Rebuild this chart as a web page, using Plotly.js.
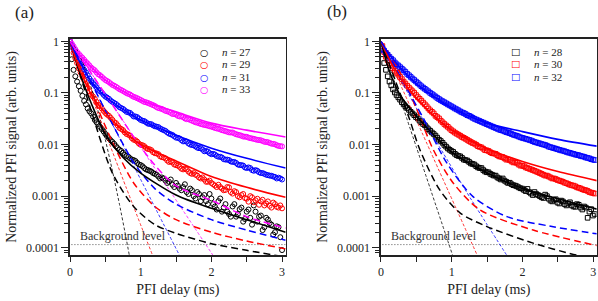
<!DOCTYPE html>
<html><head><meta charset="utf-8">
<script src="https://cdn.plot.ly/plotly-3.0.1.min.js"></script>
<style>html,body{margin:0;padding:0;background:#fff;}#plot{width:598px;height:301px;}</style>
</head><body><div id="plot"></div>
<script>
// ---------- data: panel (a) ----------
const tA = [0,0.05,0.1,0.15,0.2,0.25,0.3,0.35,0.4,0.45,0.5,0.55,0.6,0.65,0.7,0.75,0.8,0.85,0.9,0.95,1,1.05,1.1,1.15,1.2,1.25,1.3,1.35,1.4,1.45,1.5,1.55,1.6,1.65,1.7,1.75,1.8,1.85,1.9,1.95,2,2.05,2.1,2.15,2.2,2.25,2.3,2.35,2.4,2.45,2.5,2.55,2.6,2.65,2.7,2.75,2.8,2.85,2.9,2.95,3];
const tA2 = [0.025,0.075,0.125,0.175,0.225,0.275,0.325,0.375,0.425,0.475,0.525,0.575,0.625,0.675,0.725,0.775,0.825,0.875,0.925,0.975,1.025,1.075,1.125,1.175,1.225,1.275,1.325,1.375,1.425,1.475,1.525,1.575,1.625,1.675,1.725,1.775,1.825,1.875,1.925,1.975,2.025,2.075,2.125,2.175,2.225,2.275,2.325,2.375,2.425,2.475,2.525,2.575,2.625,2.675,2.725,2.775,2.825,2.875,2.925,2.975];
const a27 = [1.0,0.28,0.166,0.11,0.07,0.05,0.04,0.03,0.025,0.02,0.016,0.0132,0.0112,0.0093,0.0079,0.0069,0.006,0.0054,0.005,0.0044,0.004,0.0035,0.0032,0.003,0.0027,0.0024,0.0023,0.002,0.0019,0.00166,0.0018,0.0014,0.0015,0.0012,0.0014,0.001,0.0012,0.0008,0.00105,0.0007,0.0009,0.00063,0.0008,0.0005,0.0007,0.00045,0.00063,0.0004,0.00056,0.00032,0.0005,0.00038,0.00066,0.00032,0.00042,0.00025,0.00035,0.00028,0.0002,0.00025,0.00009];
const a27b = [0.45,0.21,0.135,0.088,0.06,0.044,0.035,0.027,0.022,0.018,0.0145,0.0121,0.0103,0.0085,0.0075,0.0063,0.0058,0.0051,0.0048,0.0041,0.0038,0.0033,0.0031,0.0028,0.0026,0.0022,0.0022,0.0018,0.0021,0.0015,0.0016,0.0013,0.0017,0.0011,0.0013,0.0009,0.0011,0.00095,0.0008,0.0011,0.0007,0.00055,0.0009,0.0006,0.0005,0.0004,0.0007,0.00045,0.0006,0.00036,0.00055,0.00028,0.0005,0.0004,0.00022,0.00038,0.0003,0.00018,0.00026,0.00016];
const a29 = [1.0,0.6,0.38,0.25,0.178,0.126,0.093,0.077,0.059,0.05,0.041,0.036,0.030,0.026,0.021,0.019,0.016,0.0148,0.0124,0.0114,0.0099,0.0093,0.0082,0.0078,0.0068,0.0065,0.0057,0.0054,0.0046,0.0045,0.0040,0.0037,0.0033,0.0033,0.0028,0.0028,0.0025,0.0022,0.0021,0.0019,0.0018,0.0016,0.00166,0.0014,0.00132,0.00148,0.00112,0.0012,0.00095,0.0011,0.00089,0.001,0.00076,0.00089,0.00079,0.00066,0.00079,0.0006,0.0007,0.0006,0.00058];
const a29b = [0.78,0.47,0.3,0.21,0.15,0.108,0.085,0.067,0.055,0.045,0.038,0.033,0.027,0.0235,0.02,0.0172,0.0155,0.0133,0.0121,0.0104,0.0097,0.0086,0.0081,0.0071,0.0067,0.0059,0.0056,0.0049,0.0047,0.0041,0.0039,0.0034,0.0034,0.003,0.0027,0.0026,0.0023,0.0023,0.0019,0.002,0.0017,0.0015,0.0015,0.0013,0.0015,0.0012,0.00125,0.001,0.00105,0.00092,0.00078,0.00095,0.00083,0.00068,0.00085,0.00072,0.00065,0.00075,0.00062,0.00066];
const a31 = [1.0,0.72,0.5,0.37,0.28,0.22,0.17,0.142,0.116,0.101,0.085,0.077,0.067,0.061,0.053,0.049,0.043,0.041,0.035,0.034,0.030,0.0285,0.0255,0.0248,0.0226,0.0218,0.0197,0.0184,0.0163,0.0153,0.0136,0.0131,0.0115,0.0114,0.0100,0.0097,0.0087,0.0085,0.0074,0.0073,0.0065,0.0064,0.0058,0.0056,0.0051,0.0050,0.0046,0.0044,0.0040,0.0039,0.0035,0.0035,0.0031,0.0031,0.0028,0.0027,0.00255,0.00248,0.00235,0.00228,0.0021];
const a31b = [0.85,0.6,0.43,0.32,0.25,0.19,0.155,0.128,0.108,0.092,0.081,0.071,0.064,0.057,0.051,0.046,0.042,0.038,0.035,0.032,0.029,0.027,0.025,0.0235,0.0222,0.0205,0.019,0.0172,0.0158,0.0144,0.0135,0.0122,0.0116,0.0105,0.0098,0.0092,0.0085,0.008,0.0075,0.0068,0.0066,0.006,0.0058,0.0052,0.0051,0.0047,0.0046,0.0041,0.004,0.0036,0.0036,0.0032,0.0032,0.0029,0.0028,0.0026,0.0025,0.0024,0.0022,0.0022];
const a33 = [1.0,0.8,0.62,0.52,0.44,0.37,0.31,0.275,0.23,0.205,0.178,0.162,0.143,0.132,0.118,0.109,0.099,0.093,0.084,0.079,0.073,0.067,0.064,0.06,0.056,0.051,0.049,0.045,0.043,0.039,0.038,0.035,0.034,0.031,0.030,0.028,0.0265,0.025,0.024,0.0232,0.0222,0.021,0.0202,0.019,0.0182,0.0172,0.0171,0.0158,0.0152,0.0143,0.0141,0.0133,0.0129,0.0123,0.0121,0.0113,0.0111,0.0104,0.0101,0.0094,0.0092];
const a33b = [0.9,0.7,0.57,0.48,0.4,0.34,0.29,0.25,0.22,0.19,0.17,0.152,0.138,0.125,0.114,0.104,0.096,0.088,0.082,0.076,0.07,0.066,0.062,0.058,0.053,0.05,0.047,0.044,0.041,0.039,0.036,0.035,0.032,0.031,0.029,0.027,0.0258,0.0245,0.0236,0.0226,0.0216,0.0205,0.0196,0.0186,0.0177,0.0171,0.0164,0.0155,0.0148,0.0142,0.0136,0.0131,0.0126,0.0122,0.0117,0.0112,0.0107,0.0103,0.0097,0.0093];

// fits (a): solid
const tFit = [0,0.1,0.2,0.3,0.5,0.75,1.0,1.5,2.0,2.5,3.05];
const a27Fit = [1,0.355,0.141,0.063,0.0158,0.0056,0.0028,0.00105,0.00058,0.00035,0.0002];
const a29Fit = [1,0.38,0.178,0.093,0.041,0.0186,0.01,0.0048,0.0024,0.00148,0.00095];
const a31Fit = [1,0.5,0.28,0.166,0.085,0.048,0.03,0.0151,0.0085,0.0054,0.0035];
const a33Fit = [1,0.63,0.44,0.316,0.178,0.107,0.072,0.043,0.026,0.019,0.014];
// long dashed (a)
const tDashA = [0,0.3,0.6,0.9,1.2,1.5,2.0,2.5,3.05];
const a27Dash = [1,0.045,0.0028,0.00063,0.00028,0.00019,0.00012,0.000089,0.000066];
const a29Dash = [1,0.1,0.0112,0.0018,0.00063,0.00035,0.0002,0.000135,0.000095];
const a31Dash = [1,0.158,0.025,0.0045,0.0014,0.0007,0.00035,0.00022,0.00014];
const a33Dash = [1,0.24,0.059,0.0141,0.004,0.00158,0.00083,0.0004,0.00024];
// thin short dashed (a)
const a27ThinT = [0,0.1,0.2,0.3,0.4,0.5,0.6,0.7,0.8,0.9];
const a27Thin = [1,0.68,0.33,0.129,0.043,0.0123,0.0031,0.00069,0.000138,0.000025];
const a29ThinT = [0,0.4,0.8,1.2];
const a29Thin = [1,0.038,0.0014,0.000055];
const a31ThinT = [0,0.8,1.6];
const a31Thin = [1,0.0072,0.000052];
const a33ThinT = [0,1.0,2.1];
const a33Thin = [1,0.0089,0.0000495];

// ---------- data: panel (b) ----------
const tB = [0.02,0.07,0.12,0.17,0.22,0.27,0.32,0.37,0.42,0.47,0.52,0.57,0.62,0.67,0.72,0.77,0.82,0.87,0.92,0.97,1.02,1.07,1.12,1.17,1.22,1.27,1.32,1.37,1.42,1.47,1.52,1.57,1.62,1.67,1.72,1.77,1.82,1.87,1.92,1.97,2.02,2.07,2.12,2.17,2.22,2.27,2.32,2.37,2.42,2.47,2.52,2.57,2.62,2.67,2.72,2.77,2.82,2.87,2.92,2.97,3.02];
const tB2 = [0.045,0.095,0.145,0.195,0.245,0.295,0.345,0.395,0.445,0.495,0.545,0.595,0.645,0.695,0.745,0.795,0.845,0.895,0.945,0.995,1.045,1.095,1.145,1.195,1.245,1.295,1.345,1.395,1.445,1.495,1.545,1.595,1.645,1.695,1.745,1.795,1.845,1.895,1.945,1.995,2.045,2.095,2.145,2.195,2.245,2.295,2.345,2.395,2.445,2.495,2.545,2.595,2.645,2.695,2.745,2.795,2.845,2.895,2.945,2.995];
const b28 = [0.56,0.28,0.166,0.117,0.091,0.074,0.06,0.051,0.043,0.037,0.032,0.027,0.0236,0.0198,0.0171,0.0149,0.0124,0.0108,0.0091,0.0079,0.0072,0.0062,0.0059,0.0051,0.0049,0.0043,0.0041,0.0036,0.0035,0.003,0.0029,0.0026,0.0025,0.0022,0.0022,0.0019,0.00182,0.00163,0.00155,0.00142,0.00132,0.00138,0.00112,0.0012,0.00105,0.00095,0.00107,0.00089,0.00079,0.00087,0.00072,0.00079,0.00066,0.00076,0.00063,0.0007,0.0006,0.00063,0.00038,0.00056,0.00045];
const b28b = [0.38,0.21,0.14,0.102,0.082,0.066,0.055,0.047,0.04,0.034,0.029,0.025,0.0215,0.0185,0.016,0.0136,0.0117,0.0098,0.0084,0.0075,0.0066,0.006,0.0055,0.005,0.0046,0.0042,0.0038,0.0035,0.0032,0.0029,0.0027,0.0025,0.0023,0.0021,0.002,0.0018,0.0017,0.0016,0.00148,0.0014,0.00125,0.0012,0.00105,0.0011,0.001,0.00092,0.001,0.00082,0.00085,0.00075,0.00082,0.0007,0.00072,0.00066,0.00062,0.00068,0.00055,0.0006,0.0005,0.00042];
const b30 = [0.81,0.5,0.38,0.3,0.245,0.204,0.166,0.138,0.117,0.1,0.083,0.071,0.06,0.05,0.043,0.036,0.032,0.027,0.0234,0.0204,0.018,0.0162,0.0148,0.0135,0.0123,0.0112,0.0104,0.0093,0.0088,0.0078,0.0075,0.0068,0.0066,0.0059,0.0057,0.0051,0.005,0.0045,0.0044,0.0039,0.0038,0.0035,0.0033,0.0031,0.0029,0.0027,0.0025,0.0024,0.0022,0.00214,0.002,0.0019,0.00178,0.00166,0.0016,0.00148,0.00141,0.00132,0.00126,0.00117,0.00112];
const b30b = [0.62,0.43,0.34,0.27,0.225,0.185,0.152,0.127,0.108,0.091,0.077,0.065,0.055,0.046,0.04,0.034,0.029,0.025,0.022,0.019,0.017,0.0155,0.014,0.0129,0.0117,0.0107,0.0099,0.009,0.0083,0.0077,0.0071,0.0067,0.0062,0.0058,0.0054,0.0051,0.0047,0.0045,0.0041,0.0039,0.0036,0.0034,0.0032,0.003,0.0028,0.0026,0.0025,0.0023,0.0022,0.00205,0.00195,0.00182,0.00172,0.00162,0.00155,0.00145,0.00136,0.0013,0.0012,0.00115];
const b32 = [0.71,0.6,0.5,0.43,0.36,0.316,0.275,0.234,0.204,0.178,0.155,0.135,0.12,0.107,0.095,0.085,0.076,0.069,0.063,0.0575,0.0525,0.048,0.0437,0.0407,0.037,0.0347,0.0316,0.0295,0.0275,0.0257,0.024,0.0224,0.0209,0.0195,0.0186,0.0174,0.0166,0.0155,0.0148,0.0138,0.0132,0.0126,0.012,0.0112,0.0107,0.0102,0.0098,0.0091,0.0087,0.0083,0.0079,0.0076,0.0072,0.0069,0.0066,0.0063,0.006,0.0058,0.0055,0.0052,0.005];
const b32b = [0.66,0.55,0.46,0.39,0.34,0.295,0.255,0.22,0.19,0.166,0.145,0.127,0.113,0.1,0.09,0.08,0.072,0.066,0.06,0.055,0.05,0.046,0.042,0.039,0.036,0.033,0.0305,0.0285,0.0266,0.0248,0.0232,0.0216,0.0202,0.019,0.018,0.017,0.016,0.0151,0.0143,0.0135,0.0129,0.0123,0.0116,0.011,0.0105,0.01,0.0095,0.0089,0.0085,0.0081,0.0077,0.0074,0.007,0.0067,0.0064,0.0062,0.0059,0.0056,0.0054,0.0051];
const b28Fit = [1,0.316,0.141,0.079,0.0355,0.0151,0.0071,0.0028,0.00141,0.00089,0.00056];
const b30Fit = [1,0.5,0.28,0.174,0.079,0.0355,0.019,0.0083,0.0047,0.003,0.002];
const b32Fit = [1,0.6,0.4,0.28,0.15,0.085,0.052,0.026,0.0178,0.0126,0.0093];
const b28DashT = [0,0.2,0.4,0.55,0.83,1.12,1.49,2.15,2.76,3.05];
const b28Dash = [1,0.178,0.032,0.0079,0.00132,0.00047,0.00026,0.000123,0.000072,0.00006];
const b30DashT = [0,0.27,0.5,0.74,1.02,1.4,2.15,3.05];
const b30Dash = [1,0.25,0.05,0.0079,0.0018,0.00054,0.00022,0.00011];
const b32DashT = [0,0.3,0.6,0.93,1.3,1.78,2.4,3.05];
const b32Dash = [1,0.178,0.032,0.0044,0.00098,0.0004,0.00026,0.000186];
const b28ThinT = [0,0.5,1.05];
const b28Thin = [1,0.0089,0.00005];
const b30ThinT = [0,0.7,1.4];
const b30Thin = [1,0.0073,0.000054];
const b32ThinT = [0,0.3,0.6,0.88,1.2,1.5,1.85];
const b32Thin = [1,0.158,0.0295,0.0068,0.00126,0.00028,0.00005];

const backgroundLevel = 0.000115;
const bgX = [0.02, 3.05];

const labelsA = ['<i>n</i> = 27','<i>n</i> = 29','<i>n</i> = 31','<i>n</i> = 33'];
const labelsB = ['<i>n</i> = 28','<i>n</i> = 30','<i>n</i> = 32'];
const yTickVals = [1,0.1,0.01,0.001,0.0001];
const yTickText = ['1','0.1','0.01','0.001','0.0001'];
const xTickVals = [0,0.5,1,1.5,2,2.5,3];
const xTickText = ['0','','1','','2','','3'];

// ---------- styling ----------
const BLACK='#000000', RED='#ff0000', BLUE='#0000ff', MAG='#ff00ff';
const FONT='Liberation Serif';
const colorsA=[BLACK,RED,BLUE,MAG], colorsB=[BLACK,RED,BLUE];

function pts(x,y,color,sym,name,xa,ya){
  return {x:x,y:y,type:'scatter',mode:'markers',name:name,xaxis:xa,yaxis:ya,showlegend:false,
    marker:{symbol:sym,size:sym==='circle-open'?5:4.6,color:color,line:{width:1,color:color}},cliponaxis:true,hoverinfo:'skip'};
}
function line(x,y,color,kind,xa,ya){
  let l;
  if(kind==='solid') l={color:color,width:1.6,shape:'spline',smoothing:0.8};
  else if(kind==='dash') l={color:color,width:1.5,dash:'7px,4px',shape:'spline',smoothing:0.8};
  else l={color:color,width:0.8,dash:'3px,2px',shape:'spline',smoothing:0.6};
  return {x:x,y:y,type:'scatter',mode:'lines',line:l,showlegend:false,xaxis:xa,yaxis:ya,hoverinfo:'skip'};
}

const traces = [
  pts(tA.concat(tA2),a27.concat(a27b),BLACK,'circle-open',labelsA[0],'x','y'),
  pts(tA.concat(tA2),a29.concat(a29b),RED,'circle-open',labelsA[1],'x','y'),
  pts(tA.concat(tA2),a31.concat(a31b),BLUE,'circle-open',labelsA[2],'x','y'),
  pts(tA.concat(tA2),a33.concat(a33b),MAG,'circle-open',labelsA[3],'x','y'),
  pts(tB.concat(tB2),b28.concat(b28b),BLACK,'square-open',labelsB[0],'x2','y2'),
  pts(tB.concat(tB2),b30.concat(b30b),RED,'square-open',labelsB[1],'x2','y2'),
  pts(tB.concat(tB2),b32.concat(b32b),BLUE,'square-open',labelsB[2],'x2','y2'),
  {x:bgX,y:[backgroundLevel,backgroundLevel],type:'scatter',mode:'lines',showlegend:false,xaxis:'x',yaxis:'y',line:{color:'#555',width:1,dash:'1px,2px'}},
  {x:bgX,y:[backgroundLevel,backgroundLevel],type:'scatter',mode:'lines',showlegend:false,xaxis:'x2',yaxis:'y2',line:{color:'#555',width:1,dash:'1px,2px'}},
  line(a27ThinT,a27Thin,BLACK,'thin','x','y'),
  line(a29ThinT,a29Thin,RED,'thin','x','y'),
  line(a31ThinT,a31Thin,BLUE,'thin','x','y'),
  line(a33ThinT,a33Thin,MAG,'thin','x','y'),
  line(tDashA,a27Dash,BLACK,'dash','x','y'),
  line(tDashA,a29Dash,RED,'dash','x','y'),
  line(tDashA,a31Dash,BLUE,'dash','x','y'),
  line(tDashA,a33Dash,MAG,'dash','x','y'),
  line(tFit,a27Fit,BLACK,'solid','x','y'),
  line(tFit,a29Fit,RED,'solid','x','y'),
  line(tFit,a31Fit,BLUE,'solid','x','y'),
  line(tFit,a33Fit,MAG,'solid','x','y'),
  line(b28ThinT,b28Thin,BLACK,'thin','x2','y2'),
  line(b30ThinT,b30Thin,RED,'thin','x2','y2'),
  line(b32ThinT,b32Thin,BLUE,'thin','x2','y2'),
  line(b28DashT,b28Dash,BLACK,'dash','x2','y2'),
  line(b30DashT,b30Dash,RED,'dash','x2','y2'),
  line(b32DashT,b32Dash,BLUE,'dash','x2','y2'),
  line(tFit,b28Fit,BLACK,'solid','x2','y2'),
  line(tFit,b30Fit,RED,'solid','x2','y2'),
  line(tFit,b32Fit,BLUE,'solid','x2','y2')
];

function xax(domain,range,anchor){
  return {domain:domain,range:range,anchor:anchor,showline:true,mirror:true,linecolor:'#222',linewidth:1.6,
    ticks:'outside',ticklen:5,tickwidth:1,tickcolor:'#222',tickmode:'array',tickvals:xTickVals,ticktext:xTickText,
    showgrid:false,zeroline:false,tickfont:{size:12,family:FONT,color:'#222'},
    title:{text:'PFI delay (ms)',font:{size:14,family:FONT,color:'#222'},standoff:6}};
}
function yax(domain,anchor){
  return {type:'log',domain:domain,range:[-4.141,0.045],anchor:anchor,showline:true,mirror:true,linecolor:'#222',linewidth:1.6,
    ticks:'outside',ticklen:7,tickwidth:1,tickcolor:'#222',tickmode:'array',tickvals:yTickVals,ticktext:yTickText,
    minor:{ticks:'outside',ticklen:4,tickwidth:1,tickcolor:'#222',dtick:'D1',showgrid:false},
    showgrid:false,zeroline:false,tickfont:{size:12,family:FONT,color:'#222'},
    title:{text:'Normalized PFI signal (arb. units)',font:{size:14,family:FONT,color:'#222'},standoff:6}};
}
const yDom=[0.1528,0.8704];

// legend built as multi-line text blocks (symbol glyphs + labels), same line spacing
const LEG_FS = 9.6;           // line spacing = 1.3 * font size ≈ 12.5 px
const legTop = 52;            // centre of first row (px from top)
function legBlock(labels,colors,glyph,xSym,xTxt){
  const n = labels.length;
  const centre = legTop + (n-1)*LEG_FS*1.3/2;
  const yc = 1 - centre/301;
  const sym = labels.map((l,i)=>'<span style="color:'+colors[i]+'">'+glyph+'</span>').join('<br>');
  const txt = labels.map(l=>'<span style="font-size:11px">'+l+'</span>').join('<br>');
  return [
    {text:sym,xref:'paper',yref:'paper',x:xSym/598,y:yc,showarrow:false,xanchor:'center',yanchor:'middle',align:'center',borderpad:0,font:{size:LEG_FS,family:'DejaVu Sans',color:'#000'}},
    {text:txt,xref:'paper',yref:'paper',x:xTxt/598,y:yc,showarrow:false,xanchor:'left',yanchor:'middle',align:'left',borderpad:0,font:{size:LEG_FS,family:FONT,color:'#222'}}
  ];
}
const annotations=[
  {text:'(a)',xref:'paper',yref:'paper',x:24/598,y:1-12/301,showarrow:false,font:{size:17,family:FONT,color:'#222'},xanchor:'center',yanchor:'middle'},
  {text:'(b)',xref:'paper',yref:'paper',x:337/598,y:1-11/301,showarrow:false,font:{size:17,family:FONT,color:'#222'},xanchor:'center',yanchor:'middle'},
  {text:'Background level',xref:'x',yref:'y',x:0.743,y:Math.log10(0.00017),showarrow:false,font:{size:12,family:FONT,color:'#333'}},
  {text:'Background level',xref:'x2',yref:'y2',x:0.749,y:Math.log10(0.00017),showarrow:false,font:{size:12,family:FONT,color:'#333'}}
].concat(legBlock(labelsA,colorsA,'○',204,221)).concat(legBlock(labelsB,colorsB,'□',515,533));

const layout = {
  width:598,height:301,margin:{l:0,r:0,t:0,b:0},paper_bgcolor:'#fff',plot_bgcolor:'#fff',
  font:{family:FONT,color:'#222'},showlegend:false,
  xaxis:xax([0.1171,0.4778],[0,3.052],'y'),
  yaxis:yax(yDom,'x'),
  xaxis2:xax([0.6371,0.9978],[0,3.048],'y2'),
  yaxis2:yax(yDom,'x2'),
  annotations:annotations
};
Plotly.newPlot('plot',traces,layout,{displayModeBar:false,staticPlot:true});
</script></body></html>
